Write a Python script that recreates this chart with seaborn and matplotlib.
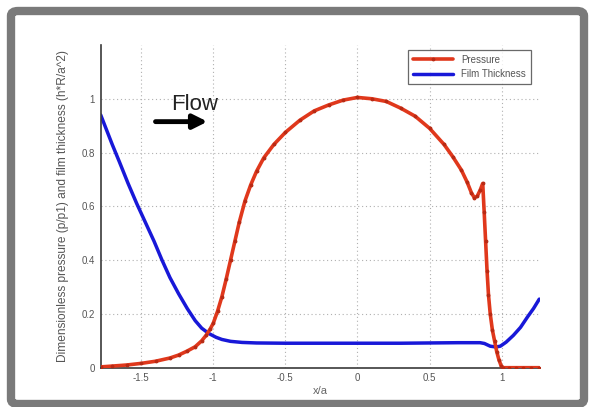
import matplotlib
matplotlib.use("Agg")
import matplotlib.pyplot as plt
from matplotlib.patches import FancyBboxPatch
import pandas as pd
import seaborn as sns

# Dimensionless pressure profile along the contact (x/a)
pressure_x = [-1.78, -1.70, -1.60, -1.50, -1.40, -1.30, -1.24, -1.18, -1.125, -1.08,
              -1.05, -1.02, -1.00, -0.97, -0.94, -0.91, -0.88, -0.85, -0.82, -0.78,
              -0.74, -0.70, -0.65, -0.58, -0.50, -0.40, -0.30, -0.20, -0.10, 0.00,
              0.10, 0.20, 0.30, 0.40, 0.50, 0.60, 0.66, 0.72, 0.76, 0.79,
              0.81, 0.83, 0.85, 0.868, 0.878, 0.888, 0.898, 0.908, 0.92, 0.935,
              0.95, 0.965, 0.98, 0.995, 1.01, 1.05, 1.10, 1.15, 1.20, 1.26]
pressure_y = [0.003, 0.006, 0.010, 0.016, 0.024, 0.036, 0.047, 0.062, 0.078, 0.100,
              0.120, 0.145, 0.165, 0.210, 0.264, 0.330, 0.400, 0.470, 0.540, 0.620,
              0.680, 0.730, 0.780, 0.830, 0.875, 0.920, 0.955, 0.977, 0.995, 1.005,
              1.000, 0.990, 0.965, 0.935, 0.890, 0.830, 0.785, 0.735, 0.690, 0.650,
              0.632, 0.638, 0.660, 0.685, 0.580, 0.470, 0.360, 0.270, 0.200, 0.140,
              0.100, 0.060, 0.030, 0.008, 0.000, 0.000, 0.000, 0.000, 0.000, 0.000]

# Dimensionless film thickness h*R/a^2
film_x = [-1.78, -1.70, -1.65, -1.59, -1.53, -1.47, -1.41, -1.355, -1.30,
          -1.24, -1.18, -1.125, -1.08, -1.03, -0.98, -0.94, -0.88, -0.80, -0.70,
          -0.50, -0.30, 0.00, 0.30, 0.50, 0.70, 0.85, 0.88, 0.92, 0.96,
          0.99, 1.03, 1.08, 1.13, 1.18, 1.22, 1.26]
film_y = [0.940, 0.830, 0.765, 0.685, 0.610, 0.540, 0.470, 0.400, 0.335,
          0.275, 0.220, 0.175, 0.147, 0.127, 0.113, 0.105, 0.098, 0.094, 0.092,
          0.091, 0.091, 0.091, 0.091, 0.092, 0.093, 0.093, 0.090, 0.080, 0.077,
          0.080, 0.095, 0.120, 0.150, 0.190, 0.220, 0.255]

x_ticks = [-1.5, -1, -0.5, 0, 0.5, 1]
x_tick_labels = ["-1.5", "-1", "-0.5", "0", "0.5", "1"]
y_ticks = [0, 0.2, 0.4, 0.6, 0.8, 1]
y_tick_labels = ["0", "0.2", "0.4", "0.6", "0.8", "1"]

sns.set_theme(style="white")
plt.rcParams["font.family"] = ["Liberation Sans", "DejaVu Sans"]

fig = plt.figure(figsize=(5.89, 4.07), dpi=100)
fig.patch.set_facecolor("white")

# Gray rounded frame around the whole figure
frame = FancyBboxPatch((11 / 589, 3 / 407), 573 / 589, 393 / 407,
                       boxstyle="round,pad=0,rounding_size=0.012",
                       transform=fig.transFigure, facecolor="none",
                       edgecolor="#7a7a7a", linewidth=6.0, zorder=0)
fig.patches.append(frame)

ax = fig.add_axes([100.7 / 589, (407 - 367.7) / 407, (540 - 100.7) / 589, (367.7 - 45) / 407])
ax.set_facecolor("white")

pdf = pd.DataFrame({"x": pressure_x, "y": pressure_y})
fdf = pd.DataFrame({"x": film_x, "y": film_y})

sns.lineplot(data=pdf, x="x", y="y", ax=ax, sort=False, estimator=None,
             color="#e0381c", linewidth=2.6, marker="o", markersize=2.0,
             markerfacecolor="#b82a14", markeredgecolor="#b82a14",
             label="Pressure", zorder=3)
sns.lineplot(data=fdf, x="x", y="y", ax=ax, sort=False, estimator=None,
             color="#1818d8", linewidth=2.5, label="Film Thickness", zorder=2)

ax.set_xlim(-1.78, 1.265)
ax.set_ylim(0, 1.2)
ax.set_xticks(x_ticks)
ax.set_xticklabels(x_tick_labels)
ax.set_yticks(y_ticks)
ax.set_yticklabels(y_tick_labels)
ax.tick_params(axis="both", direction="in", length=3, width=0.8, colors="#555555",
               labelsize=7, pad=4)
ax.grid(True, color="#b0b0b0", linestyle=(0, (1, 2.5)), linewidth=0.8)

for side in ["top", "right"]:
    ax.spines[side].set_visible(False)
for side in ["left", "bottom"]:
    ax.spines[side].set_color("#3a3a3a")
    ax.spines[side].set_linewidth(1.2)

ax.set_xlabel("x/a", fontsize=8, color="#666666", labelpad=2)
ax.set_ylabel("Dimensionless pressure (p/p1) and film thickness (h*R/a^2)",
              fontsize=8.6, color="#555555", labelpad=9)

leg = ax.legend(loc="upper right", fontsize=7, frameon=True, fancybox=False,
                edgecolor="#444444", handlelength=4.2, borderpad=0.5,
                labelspacing=0.45, bbox_to_anchor=(0.99, 1.0))
leg.get_frame().set_linewidth(0.9)
for t in leg.get_texts():
    t.set_color("#555555")

ax.text(-1.13, 0.96, "Flow", fontsize=16, color="#222222", ha="center", va="baseline")
ax.annotate("", xy=(-1.04, 0.915), xytext=(-1.40, 0.915),
            arrowprops=dict(arrowstyle="-|>,head_length=0.7,head_width=0.35",
                            color="black", linewidth=3.5, shrinkA=0, shrinkB=0))

fig.savefig("out.png", dpi=100)
